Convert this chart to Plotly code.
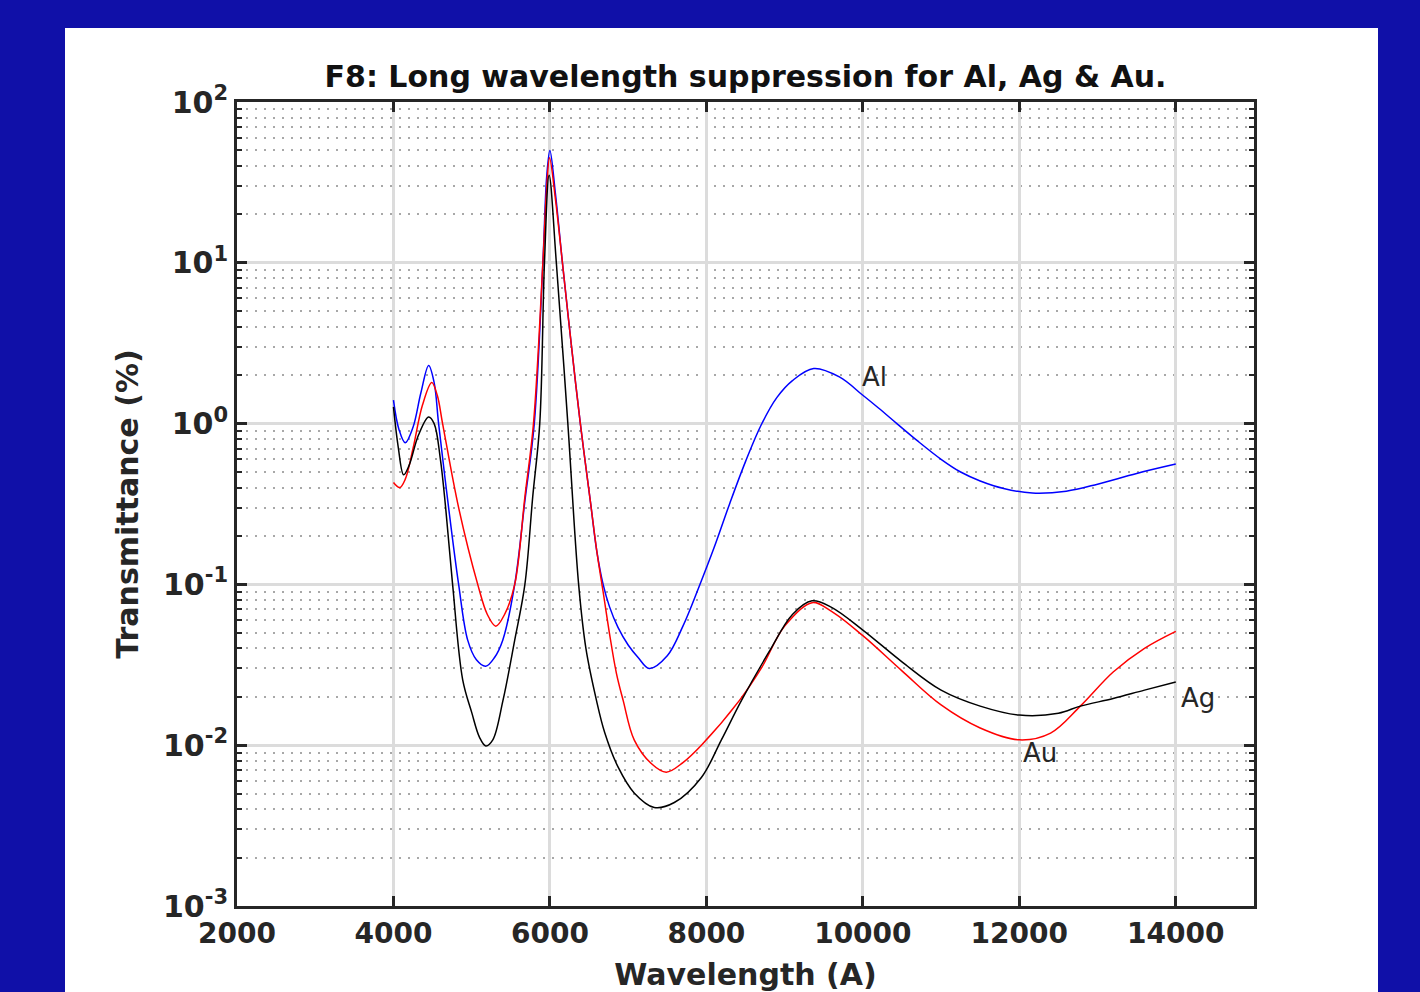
import math
import plotly.graph_objects as go

# ---- data ----
wl_al = [4000, 4070, 4150, 4250, 4350, 4450, 4520, 4577, 4705, 4833, 4949, 5060, 5180, 5290, 5397, 5550, 5680, 5800,
         5910, 5960, 6000, 6070, 6160, 6270, 6389, 6520, 6600, 6680, 6760, 6870, 7000, 7130, 7269, 7500, 7700, 7900, 8100, 8300, 8500, 8700,
         8900, 9100, 9372, 9700, 10000, 10200, 10435, 10700, 11000, 11250, 11500, 11800, 12166, 12600, 13000, 13500, 14000]
t_al = [1.40, 0.92, 0.76, 0.95, 1.55, 2.3, 1.8, 1.0, 0.30, 0.10, 0.045, 0.034, 0.031, 0.035, 0.045, 0.10, 0.33, 1.0,
        10, 35, 50, 27, 10, 3.2, 1.0, 0.32, 0.16, 0.10, 0.073, 0.054, 0.042, 0.035, 0.030, 0.036, 0.055, 0.095, 0.17, 0.32, 0.58, 0.98,
        1.45, 1.85, 2.2, 1.95, 1.5, 1.25, 1.0, 0.78, 0.6, 0.5, 0.44, 0.395, 0.37, 0.38, 0.42, 0.49, 0.56]

wl_ag = [4000, 4060, 4130, 4200, 4320, 4450, 4520, 4600, 4667, 4756, 4885, 5000, 5100, 5180, 5270, 5400, 5550, 5680,
         5780, 5870, 5930, 5990, 6082, 6229, 6367, 6460, 6595, 6700, 6872, 7077, 7333, 7590, 7936, 8192,
         8449, 8800, 9100, 9350, 9600, 10000, 10500, 11000, 11500, 12000, 12500, 12780, 13200, 13600, 14000]
t_ag = [1.27, 0.72, 0.48, 0.55, 0.85, 1.1, 1.0, 0.6, 0.30, 0.10, 0.0255, 0.016, 0.0112, 0.0099, 0.0108, 0.019, 0.045, 0.10,
        0.35, 1.0, 10, 35, 10, 1.0, 0.10, 0.04, 0.019, 0.012, 0.0073, 0.00505, 0.0041, 0.0044, 0.0063, 0.0108,
        0.019, 0.038, 0.065, 0.079, 0.072, 0.052, 0.033, 0.022, 0.0175, 0.0154, 0.0158, 0.0175, 0.0195, 0.022, 0.0247]

wl_au = [4000, 4080, 4150, 4250, 4370, 4490, 4560, 4628, 4833, 5077, 5200, 5308, 5420, 5550, 5680, 5790,
         5910, 5960, 5995, 6070, 6160, 6270, 6389, 6520, 6600, 6680, 6760, 6850, 6936, 7077, 7295, 7487, 7700, 7936, 8423,
         8700, 9000, 9350, 9600, 10000, 10500, 11000, 11500, 12000, 12400, 12780, 13200, 13600, 14000]
t_au = [0.43, 0.40, 0.45, 0.70, 1.3, 1.8, 1.5, 1.0, 0.30, 0.10, 0.065, 0.055, 0.065, 0.10, 0.35, 1.0,
        10, 30, 45, 25, 10, 3.2, 1.0, 0.32, 0.16, 0.09, 0.05, 0.028, 0.019, 0.0108, 0.0077, 0.0068, 0.0078, 0.010, 0.019,
        0.030, 0.055, 0.077, 0.068, 0.048, 0.029, 0.0178, 0.0128, 0.0108, 0.0119, 0.0175, 0.0285, 0.040, 0.051]

y_tickvals = [1e-3, 1e-2, 1e-1, 1e0, 1e1, 1e2]
y_ticktext = ["10<sup>-3</sup>", "10<sup>-2</sup>", "10<sup>-1</sup>", "10<sup>0</sup>", "10<sup>1</sup>", "10<sup>2</sup>"]
x_tickvals = [2000, 4000, 6000, 8000, 10000, 12000, 14000]
x_ticktext = ["2000", "4000", "6000", "8000", "10000", "12000", "14000"]

labels = [("Al", 10150, 1.95), ("Ag", 14280, 0.0197), ("Au", 12270, 0.0089)]

BLUE_BG = "#1010a8"

fig = go.Figure()
fig.add_trace(go.Scatter(x=wl_al, y=t_al, mode="lines", line=dict(color="#0000ff", width=1.5, shape="spline", smoothing=1.0)))
fig.add_trace(go.Scatter(x=wl_au, y=t_au, mode="lines", line=dict(color="#ff0000", width=1.5, shape="spline", smoothing=1.0)))
fig.add_trace(go.Scatter(x=wl_ag, y=t_ag, mode="lines", line=dict(color="#000000", width=1.5, shape="spline", smoothing=1.0)))

for txt, xv, yv in labels:
    fig.add_annotation(x=xv, y=math.log10(yv), yref="y", xref="x", text=txt, showarrow=False,
                       font=dict(family="DejaVu Sans", size=26, color="#262626"))

L, R, T, B = 237, 1254, 102, 906
W, H = 1420, 992
pw, ph = R - L, B - T

def px(xp):
    return (xp - L) / pw

def py(yp):
    return (B - yp) / ph

fig.add_shape(type="rect", xref="paper", yref="paper", x0=px(65), x1=px(1378), y0=py(1100), y1=py(28),
              fillcolor="white", line=dict(width=0), layer="below")

axis_col = "#262626"
fig.update_xaxes(range=[2000, 15000], tickvals=x_tickvals, ticktext=x_ticktext, ticks="inside", ticklen=10, tickwidth=3,
                 tickcolor=axis_col, showline=True, linecolor=axis_col, linewidth=3, mirror="ticks", automargin=False,
                 showgrid=True, gridcolor="#dcdcdc", gridwidth=3, zeroline=False,
                 tickfont=dict(family="DejaVu Sans", size=28, color=axis_col, weight="bold"),
                 title=dict(text="<b>Wavelength (A)</b>", font=dict(family="DejaVu Sans", size=30, color=axis_col), standoff=16))
fig.update_yaxes(type="log", range=[-3, 2], tickvals=y_tickvals, ticktext=y_ticktext, ticks="inside", ticklen=10,
                 tickwidth=3, tickcolor=axis_col, showline=True, linecolor=axis_col, linewidth=3, mirror="ticks", automargin=False,
                 showgrid=True, gridcolor="#dcdcdc", gridwidth=3, zeroline=False,
                 minor=dict(ticks="inside", ticklen=5, tickwidth=2, tickcolor=axis_col, dtick="D1",
                            showgrid=True, gridcolor="#a8a8a8", gridwidth=1.5, griddash="2px,7px"),
                 tickfont=dict(family="DejaVu Sans", size=30, color=axis_col, weight="bold"),
                 title=dict(text="<b>Transmittance (%)</b>", font=dict(family="DejaVu Sans", size=30, color=axis_col), standoff=16))

fig.update_layout(
    width=W, height=H,
    margin=dict(l=L, r=W - R, t=T, b=H - B),
    paper_bgcolor=BLUE_BG, plot_bgcolor="white",
    showlegend=False,
    title=dict(text="<b>F8: Long wavelength suppression for Al, Ag &amp; Au.</b>", x=(L + R) / 2 / W, xanchor="center",
               y=1 - 76 / H, yanchor="middle", font=dict(family="DejaVu Sans", size=30, color="#111111")),
)

fig.write_html("out.html", config={"displayModeBar": False},
               post_script="document.body.style.margin='0';document.body.style.background='" + BLUE_BG + "';")
